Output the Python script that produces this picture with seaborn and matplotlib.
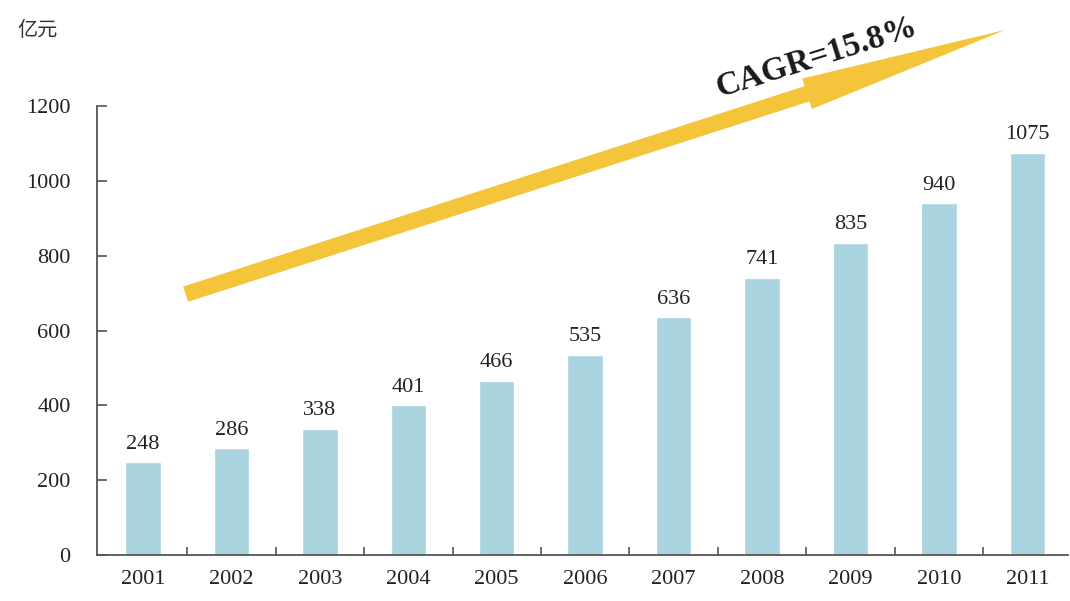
import matplotlib
matplotlib.use("Agg")
import matplotlib.pyplot as plt
import seaborn as sns
import pandas as pd

years = ["2001", "2002", "2003", "2004", "2005", "2006", "2007", "2008", "2009", "2010", "2011"]
values = [248, 286, 338, 401, 466, 535, 636, 741, 835, 940, 1075]
y_ticks = [0, 200, 400, 600, 800, 1000, 1200]
unit_label = "亿元"
cagr_label = "CAGR=15.8%"

sns.set_theme(style="white")
plt.rcParams["font.family"] = ["Liberation Serif", "Noto Sans CJK SC", "DejaVu Sans"]

df = pd.DataFrame({"year": years, "value": values})

fig = plt.figure(figsize=(10.70, 6.01), dpi=100)
ax = fig.add_axes([97 / 1070, 46 / 601, (1068 - 97) / 1070, (555 - 106) / 601])

sns.barplot(data=df, x="year", y="value", color="#A8D3DF", width=0.4,
            saturation=1, ax=ax)

for i, v in enumerate(values):
    ax.annotate(str(v), xy=(i, v), xytext=(0, 6), textcoords="offset points",
                ha="center", va="bottom", fontsize=16, color="#222222")

ax.set_ylim(0, 1200)
ax.set_xlim(-0.52, 10.46)
ax.set_yticks(y_ticks)
ax.set_xticks([i + 0.5 for i in range(len(years) - 1)], minor=True)
ax.set_xlabel("")
ax.set_ylabel("")

for s in ["top", "right"]:
    ax.spines[s].set_visible(False)
for s in ["left", "bottom"]:
    ax.spines[s].set_color("#555555")
    ax.spines[s].set_linewidth(1.3)

ax.tick_params(axis="y", direction="in", length=7, width=1.2, color="#555555",
               pad=19, labelsize=16, labelcolor="#222222", left=True)
ax.tick_params(axis="x", which="major", length=0, pad=11, labelsize=16,
               labelcolor="#222222")
ax.tick_params(axis="x", which="minor", direction="in", length=6, width=1.2,
               color="#555555", bottom=True)

fig.text(38 / 1070, 1 - 30 / 601, unit_label, ha="center", va="center",
         fontsize=14.5, color="#333333", family=["Noto Sans CJK SC", "DejaVu Sans"])

ax.annotate("", xy=(1008, 601 - 29), xytext=(183, 601 - 295),
            xycoords="figure pixels", textcoords="figure pixels",
            arrowprops=dict(arrowstyle="simple,head_length=15,head_width=2.3,tail_width=1.15",
                            mutation_scale=10, color="#F4C53A", lw=0),
            annotation_clip=False)

fig.text(817 / 1070, 1 - 57 / 601, cagr_label, ha="center", va="center",
         rotation=17.5, fontsize=24, fontweight="bold", color="#1a1a1a")

fig.savefig("out.png", dpi=100)
